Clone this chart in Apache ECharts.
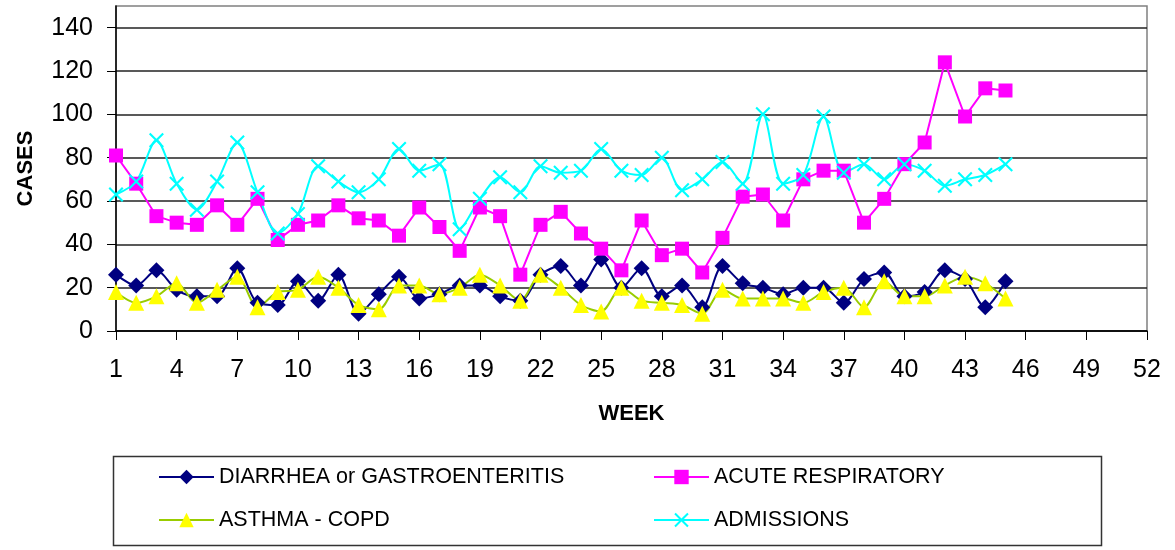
<!DOCTYPE html>
<html>
<head>
<meta charset="utf-8">
<script src="https://cdn.jsdelivr.net/npm/echarts@6/dist/echarts.min.js"></script>
<style>
html,body{margin:0;padding:0;background:#fff;}
#chart{width:1175px;height:550px;}
</style>
</head>
<body>
<div id="chart"></div>
<script>
const weeks = Array.from({length: 52}, (_, i) => String(i + 1));
const yTicks = [0, 20, 40, 60, 80, 100, 120, 140];
const diarrhea = [26,21,28,19,16,16,29,13,12,23,14,26,8,17,25,15,17,21,21,16,14,26,30,21,33,20,29,16,21,11,30,22,20,17,20,20,13,24,27,16,18,28,24,11,23];
const acuteResp = [81,68,53,50,49,58,49,61,42,49,51,58,52,51,44,57,48,37,57,53,26,49,55,45,38,28,51,35,38,27,43,62,63,51,70,74,74,50,61,77,87,124,99,112,111];
const asthma = [18,13,16,22,13,19,25,11,18,19,25,20,12,10,21,21,17,20,26,21,14,26,20,12,9,20,14,13,12,8,19,15,15,15,13,18,20,11,23,16,16,21,25,22,15];
const admissions = [63,69,88,68,56,69,87,64,45,54,76,69,64,70,84,74,77,47,61,71,64,76,73,74,84,74,72,80,65,70,78,68,100,68,72,99,73,77,70,77,74,67,70,72,77];
const names = ['DIARRHEA or GASTROENTERITIS', 'ACUTE RESPIRATORY', 'ASTHMA - COPD', 'ADMISSIONS'];

const FONT = '"Liberation Sans", Arial, sans-serif';
const crossPath = 'path://M0,1L1,0L5,4L9,0L10,1L6,5L10,9L9,10L5,6L1,10L0,9L4,5Z';

const chart = echarts.init(document.getElementById('chart'), null, {renderer: 'canvas'});
chart.setOption({
  animation: false,
  backgroundColor: '#fff',
  grid: {left: 116, right: 28, top: 6, bottom: 219, show: true, borderColor: '#808080', borderWidth: 1.5, containLabel: false},
  xAxis: {
    type: 'category', data: weeks, boundaryGap: false,
    name: 'WEEK', nameLocation: 'middle', nameGap: 72,
    nameTextStyle: {fontFamily: FONT, fontSize: 22, fontWeight: 'bold', color: '#000'},
    axisLine: {lineStyle: {color: '#000', width: 1.5}},
    axisTick: {interval: 2, length: 9, lineStyle: {color: '#000', width: 1}},
    axisLabel: {interval: 2, margin: 27, fontFamily: FONT, fontSize: 25, color: '#000'},
    splitLine: {show: false}
  },
  yAxis: {
    type: 'value', min: 0, max: 150, interval: 20,
    name: 'CASES', nameLocation: 'middle', nameGap: 79,
    nameTextStyle: {fontFamily: FONT, fontSize: 22, fontWeight: 'bold', color: '#000'},
    axisLine: {show: true, lineStyle: {color: '#000', width: 1.5}},
    axisTick: {show: true, length: 9, customValues: yTicks, lineStyle: {color: '#000', width: 1}},
    axisLabel: {margin: 23, customValues: yTicks, fontFamily: FONT, fontSize: 25, color: '#000'},
    splitLine: {lineStyle: {color: '#222', width: 1.5}}
  },
  legend: [
    {data: [names[0], names[2]], orient: 'vertical', left: 158, top: 466, itemGap: 21, itemWidth: 55, itemHeight: 18, padding: 0,
     textStyle: {fontFamily: FONT, fontSize: 21.5, color: '#000'}},
    {data: [names[1], names[3]], orient: 'vertical', left: 653, top: 466, itemGap: 21, itemWidth: 55, itemHeight: 18, padding: 0,
     textStyle: {fontFamily: FONT, fontSize: 21.5, color: '#000'}}
  ],
  graphic: [{type: 'rect', left: 111, top: 454, shape: {width: 988, height: 89}, style: {fill: 'none', stroke: '#333', lineWidth: 1.5}, silent: true, z: -1}],
  series: [
    {name: names[0], type: 'line', data: diarrhea, smooth: 0.3, symbol: 'diamond', symbolSize: 16, showAllSymbol: true, showSymbol: true,
     lineStyle: {color: '#000080', width: 2}, itemStyle: {color: '#000080'}},
    {name: names[1], type: 'line', data: acuteResp, smooth: false, symbol: 'rect', symbolSize: 14, showAllSymbol: true, showSymbol: true,
     lineStyle: {color: '#FF00FF', width: 2}, itemStyle: {color: '#FF00FF'}},
    {name: names[2], type: 'line', data: asthma, smooth: 0.3, symbol: 'triangle', symbolSize: 16, showAllSymbol: true, showSymbol: true,
     lineStyle: {color: '#99CC00', width: 2}, itemStyle: {color: '#FFFF00'}},
    {name: names[3], type: 'line', data: admissions, smooth: 0.3, symbol: crossPath, symbolSize: 15, showAllSymbol: true, showSymbol: true,
     lineStyle: {color: '#00FFFF', width: 2}, itemStyle: {color: '#00FFFF'}}
  ]
});
</script>
</body>
</html>
